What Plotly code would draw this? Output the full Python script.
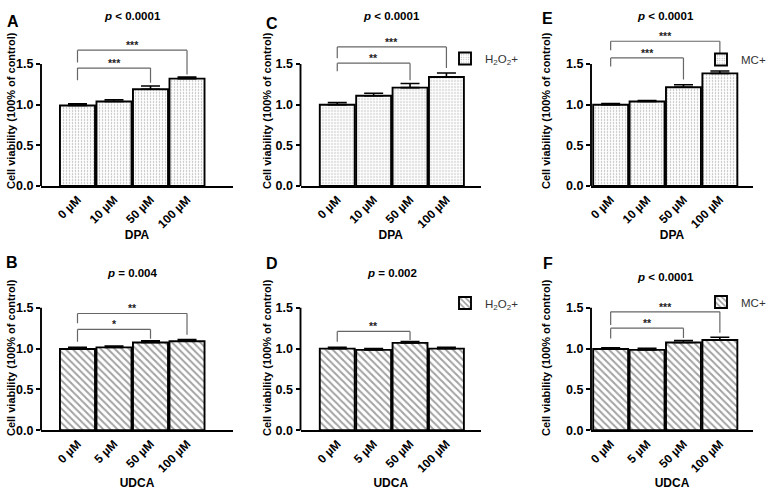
import plotly.graph_objects as go

W, H = 783, 493

# ---------------- data ----------------
dpa_labels = ["0 µM", "10 µM", "50 µM", "100 µM"]
udca_labels = ["0 µM", "5 µM", "50 µM", "100 µM"]

a_mean = [0.99, 1.04, 1.19, 1.32]
a_sem = [0.02, 0.02, 0.04, 0.02]
c_mean = [1.00, 1.11, 1.21, 1.34]
c_sem = [0.025, 0.03, 0.05, 0.05]
e_mean = [1.00, 1.04, 1.215, 1.385]
e_sem = [0.015, 0.012, 0.03, 0.03]

b_mean = [0.995, 1.015, 1.075, 1.09]
b_sem = [0.02, 0.015, 0.02, 0.02]
d_mean = [1.00, 0.985, 1.07, 1.00]
d_sem = [0.015, 0.015, 0.018, 0.015]
f_mean = [0.995, 0.985, 1.075, 1.105]
f_sem = [0.015, 0.02, 0.025, 0.035]

p_text = ["<i>p</i> < 0.0001", "<i>p</i> < 0.0001", "<i>p</i> < 0.0001",
          "<i>p</i> = 0.004", "<i>p</i> = 0.002", "<i>p</i> < 0.0001"]
panel_letters = ["A", "C", "E", "B", "D", "F"]
legend_names = [None, "H<sub>2</sub>O<sub>2</sub>+", "MC+", None, "H<sub>2</sub>O<sub>2</sub>+", "MC+"]
y_title = "Cell viability (100% of control)"

# brackets: (from index, to index, bracket height, left leg end, right leg end, stars)
a_brackets = [(0, 2, 1.45, 1.30, 1.27, "***"), (0, 3, 1.67, 1.52, 1.37, "***")]
c_brackets = [(0, 2, 1.51, 1.41, 1.30, "**"), (0, 3, 1.71, 1.57, 1.45, "***")]
e_brackets = [(0, 2, 1.575, 1.47, 1.31, "***"), (0, 3, 1.78, 1.67, 1.48, "***")]
b_brackets = [(0, 2, 1.235, 1.085, 1.12, "*"), (0, 3, 1.43, 1.31, 1.17, "**")]
d_brackets = [(0, 2, 1.21, 1.085, 1.105, "**")]
f_brackets = [(0, 2, 1.25, 1.125, 1.13, "**"), (0, 3, 1.45, 1.29, 1.195, "***")]

panels = [
    (dpa_labels, a_mean, a_sem, a_brackets, "DPA"),
    (dpa_labels, c_mean, c_sem, c_brackets, "DPA"),
    (dpa_labels, e_mean, e_sem, e_brackets, "DPA"),
    (udca_labels, b_mean, b_sem, b_brackets, "UDCA"),
    (udca_labels, d_mean, d_sem, d_brackets, "UDCA"),
    (udca_labels, f_mean, f_sem, f_brackets, "UDCA"),
]

# ---------------- layout geometry (pixels) ----------------
col_dom = [(41, 233), (300.5, 481), (591, 753)]
col_rng = [(-1.0, 4.26), (-1.01, 3.95), (-0.54, 3.91)]
row_dom = [(186, 31.5), (430.3, 275.1)]  # (bottom px, top px)
YMAX = 1.9
xtitle_standoff = [0, 4]
ytitle_pos = [(11, 111), (267, 111), (546, 111), (11, 358), (267, 358), (546, 358)]
p_y = [16, 16, 16, 273, 273, 277]
letter_pos = [(12.5, 22), (271.5, 23), (547.5, 18), (12, 262), (272, 263), (547.5, 263)]
legend_pos = [None, (445, 58.5), (701, 59.5), None, (445, 303), (701, 302)]

FONT = "Arial, Liberation Sans, sans-serif"

def px_x(p):
    return p / W

def px_y(p):
    return 1 - p / H

fig = go.Figure()
layout = dict(
    width=W, height=H,
    margin=dict(l=0, r=0, t=0, b=0, autoexpand=False),
    paper_bgcolor="white", plot_bgcolor="rgba(0,0,0,0)",
    font=dict(family=FONT, color="black"),
    bargap=0.04,
    showlegend=True,
)
shapes = []
annotations = []

legend_ids = {1: "legend", 2: "legend2", 4: "legend3", 5: "legend4"}

for i, (labels, mean, sem, brackets, xtitle) in enumerate(panels):
    row, col = divmod(i, 3)
    n = i + 1
    xa = "x" if n == 1 else f"x{n}"
    ya = "y" if n == 1 else f"y{n}"
    xkey = "xaxis" if n == 1 else f"xaxis{n}"
    ykey = "yaxis" if n == 1 else f"yaxis{n}"
    dpa = row == 0
    pattern = (dict(shape=".", size=3, solidity=0.2, fgcolor="#555555", bgcolor="white")
               if dpa else
               dict(shape="\\", size=5, solidity=0.4, fgcolor="#454545", bgcolor="white"))
    lg = legend_ids.get(i)
    fig.add_trace(go.Bar(
        x=labels, y=mean, xaxis=xa, yaxis=ya,
        name=legend_names[i] if legend_names[i] else "",
        showlegend=lg is not None,
        legend=lg if lg else "legend",
        marker=dict(color="white", pattern=pattern, line=dict(color="black", width=1.9)),
        width=0.96,
        error_y=dict(type="data", array=sem, symmetric=False, arrayminus=[0] * len(sem),
                     color="black", thickness=1.6, width=9.5),
        hoverinfo="skip",
    ))
    d0, d1 = col_dom[col]
    layout[xkey] = dict(
        domain=[px_x(d0), px_x(d1)], range=list(col_rng[col]), anchor=ya,
        type="category", showline=True, linecolor="black", linewidth=1.9,
        ticks="", tickangle=-45, showgrid=False, zeroline=False, automargin=False,
        tickfont=dict(size=12, family=FONT, weight=700),
        title=dict(text=xtitle, font=dict(size=12, family=FONT, weight=700),
                   standoff=xtitle_standoff[row]),
        fixedrange=True,
    )
    yb, yt = row_dom[row]
    layout[ykey] = dict(
        domain=[px_y(yb), px_y(yt)], range=[0, YMAX], anchor=xa,
        tickvals=[0, 0.5, 1.0, 1.5], ticktext=["0.0", "0.5", "1.0", "1.5"],
        ticks="outside", ticklen=4, tickwidth=1.6, tickcolor="black",
        showline=False, showgrid=False, zeroline=False, automargin=False,
        tickfont=dict(size=12.5, family=FONT, weight=700),
        fixedrange=True,
    )
    # y-axis title
    tx, ty = ytitle_pos[i]
    annotations.append(dict(x=px_x(tx), y=px_y(ty), xref="paper", yref="paper",
                            text=y_title, textangle=-90, showarrow=False,
                            xanchor="center", yanchor="middle",
                            font=dict(size=11, family=FONT, weight=700)))
    # y-axis line from 0 to 1.5
    shapes.append(dict(type="line", xref=f"{xa} domain", yref=f"{ya} domain",
                       x0=0, x1=0, y0=0, y1=1.5 / YMAX,
                       line=dict(color="black", width=1.9)))
    # significance brackets
    for (i0, i1, yh, yl, yr, stars) in brackets:
        xl, xr = labels[i0], labels[i1]
        for (sx0, sy0, sx1, sy1) in [(xl, yl, xl, yh), (xl, yh, xr, yh), (xr, yh, xr, yr)]:
            shapes.append(dict(type="line", xref=xa, yref=ya, x0=sx0, y0=sy0, x1=sx1, y1=sy1,
                               line=dict(color="#666666", width=1.2)))
        annotations.append(dict(x=(i0 + i1) / 2, y=yh, xref=xa, yref=ya, text=stars,
                                showarrow=False, yanchor="bottom", xanchor="center", yshift=-3,
                                font=dict(size=10.5, family=FONT, weight=700, color="#222")))
    # p-value title
    annotations.append(dict(x=(len(labels) - 1) / 2, y=px_y(p_y[i]), xref=xa, yref="paper",
                            text=p_text[i], showarrow=False, xanchor="center", yanchor="middle",
                            font=dict(size=11.5, family=FONT, weight=700)))
    # panel letter
    lx, ly = letter_pos[i]
    annotations.append(dict(x=px_x(lx), y=px_y(ly), xref="paper", yref="paper",
                            text=panel_letters[i], showarrow=False, xanchor="center",
                            yanchor="middle", font=dict(size=16, family=FONT, weight=700)))
    if lg is not None:
        lpx, lpy = legend_pos[i]
        layout[lg] = dict(x=px_x(lpx), y=px_y(lpy), xanchor="left", yanchor="middle",
                          bgcolor="rgba(0,0,0,0)", borderwidth=0,
                          font=dict(size=11.5, family=FONT, color="#333"),
                          itemclick=False, itemdoubleclick=False)

layout["shapes"] = shapes
layout["annotations"] = annotations
fig.update_layout(**layout)
fig.write_html(
    "out.html",
    config={"displayModeBar": False, "responsive": False},
    post_script="document.body.style.margin='0px';document.body.style.overflow='hidden';",
)
